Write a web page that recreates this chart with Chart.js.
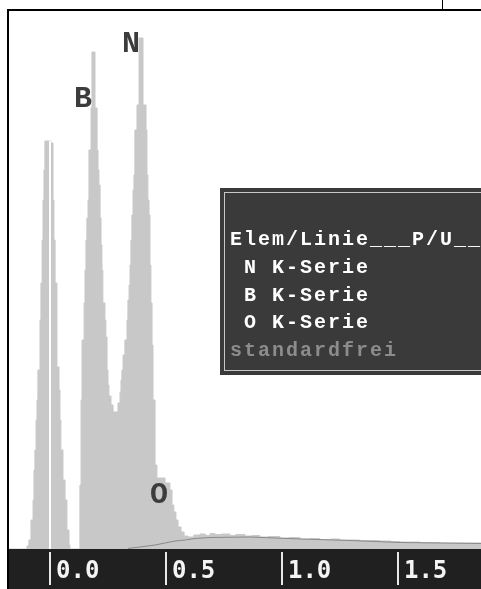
<!DOCTYPE html>
<html>
<head>
    <title>EDX Spektrum</title>
    <script src="https://cdn.jsdelivr.net/npm/chart.js"></script>
    <style>
        body { margin: 0; background: #fff; }
        canvas { display: block; }
    </style>
</head>
<body>
<canvas id="spectrum" width="481" height="589"></canvas>
<script>
    // channel start energy (keV) and counts of that channel
    const energy = [-0.181, -0.099, -0.091, -0.082, -0.073, -0.069, -0.065, -0.060, -0.056, -0.052,
        -0.043, -0.039, -0.034, -0.030, -0.026, -0.022, 0.004, 0.013, 0.017, 0.022,
        0.030, 0.039, 0.043, 0.047, 0.056, 0.065, 0.073, 0.082, 0.086,
        0.129, 0.134, 0.138, 0.147, 0.151, 0.155, 0.159, 0.164, 0.168, 0.177,
        0.181, 0.194, 0.203, 0.207, 0.211, 0.216, 0.220, 0.224, 0.228, 0.237,
        0.241, 0.246, 0.250, 0.254, 0.263, 0.272, 0.293, 0.302, 0.306, 0.310,
        0.315, 0.323, 0.332, 0.336, 0.341, 0.345, 0.349, 0.353, 0.358, 0.362,
        0.366, 0.375, 0.384, 0.401, 0.414, 0.418, 0.422, 0.427, 0.431, 0.435,
        0.440, 0.444, 0.453, 0.461, 0.496, 0.517, 0.526, 0.534, 0.543, 0.552,
        0.565, 0.578, 0.595, 0.62, 0.647, 0.67, 0.69, 0.711, 0.74, 0.776,
        0.80, 0.841, 0.87, 0.905, 0.94, 0.991, 1.03, 1.078, 1.12, 1.164,
        1.21, 1.25, 1.29, 1.336, 1.38, 1.422, 1.47, 1.509, 1.55, 1.595,
        1.64, 1.681, 1.75, 1.858];
    const counts = [0, 6, 18, 58, 98, 158, 198, 258, 298, 358,
        458, 532, 618, 698, 758, 816, 812, 698, 618, 532,
        364, 318, 258, 198, 138, 98, 38, 8, 0,
        128, 298, 418, 492, 558, 618, 662, 698, 798, 882,
        994, 882, 798, 758, 728, 662, 608, 558, 492, 458,
        424, 358, 328, 306, 288, 274, 292, 314, 338, 358,
        388, 418, 458, 498, 528, 568, 618, 668, 718, 748,
        838, 888, 1022, 888, 838, 748, 698, 668, 568, 492,
        408, 298, 168, 142, 132, 118, 88, 74, 58, 44,
        34, 26, 24, 28, 30, 27, 31, 29, 30, 27,
        29, 26, 27, 24, 25, 22, 23, 20, 21, 19,
        20, 18, 18, 17, 17, 16, 15, 14, 14, 13,
        13, 12, 12, 12];

    // background fit under the spectrum
    const bgEnergy = [0.336, 0.388, 0.453, 0.496, 0.539, 0.582, 0.625, 0.690, 0.862, 1.078, 1.293, 1.509, 1.858];
    const bgCounts = [1, 4, 8, 12, 16, 18, 21, 23, 24, 20, 17, 13, 11];

    const tickValues = [0, 0.5, 1.0, 1.5];

    // element letters and where they sit (keV, counts of the letter's lower right corner)
    const peakNames = ['N', 'B', 'O'];
    const peakLabelE = [0.388, 0.181, 0.509];
    const peakLabelC = [994, 884, 92];

    const tableHeader = 'Elem/Linie___P/U___';
    const tableRows = [' N K-Serie', ' B K-Serie', ' O K-Serie'];
    const tableNote = 'standardfrei';

    const screenPlugin = {
        id: 'screen',
        beforeDraw(chart) {
            const ctx = chart.ctx;
            const area = chart.chartArea;
            ctx.save();
            ctx.fillStyle = '#202020';
            ctx.fillRect(7, area.bottom, chart.width - 7, chart.height - area.bottom);
            ctx.restore();
        },
        afterDraw(chart) {
            const ctx = chart.ctx;
            const area = chart.chartArea;
            const xs = chart.scales.x;
            const ys = chart.scales.y;
            ctx.save();

            // tick bars in the axis strip
            ctx.strokeStyle = '#e8e8e8';
            ctx.lineWidth = 2;
            xs.ticks.forEach(t => {
                const px = Math.round(xs.getPixelForValue(t.value));
                ctx.beginPath();
                ctx.moveTo(px, area.bottom + 3);
                ctx.lineTo(px, area.bottom + 36);
                ctx.stroke();
            });

            // window frame
            ctx.strokeStyle = '#000';
            ctx.lineWidth = 2;
            ctx.beginPath();
            ctx.moveTo(8, chart.height);
            ctx.lineTo(8, 10);
            ctx.lineTo(chart.width, 10);
            ctx.stroke();
            ctx.lineWidth = 1;
            ctx.beginPath();
            ctx.moveTo(442.5, 0);
            ctx.lineTo(442.5, 10);
            ctx.stroke();

            // peak letters
            ctx.fillStyle = '#3c3c3c';
            ctx.font = 'bold 30px "Liberation Mono"';
            ctx.textAlign = 'right';
            ctx.textBaseline = 'alphabetic';
            peakNames.forEach((n, i) => {
                ctx.fillText(n, xs.getPixelForValue(peakLabelE[i]), ys.getPixelForValue(peakLabelC[i]));
            });

            // result box
            ctx.fillStyle = '#3a3a3a';
            ctx.fillRect(220, 188, chart.width - 220, 187);
            ctx.strokeStyle = '#c8c8c8';
            ctx.lineWidth = 1;
            ctx.strokeRect(224.5, 192.5, chart.width, 178);
            ctx.font = 'bold 20px "Liberation Mono"';
            ctx.letterSpacing = '2px';
            ctx.textAlign = 'left';
            ctx.fillStyle = '#ffffff';
            ctx.fillText(tableHeader, 230, 245);
            tableRows.forEach((r, i) => ctx.fillText(r, 230, 273 + i * 27.7));
            ctx.fillStyle = '#8c8c8c';
            ctx.fillText(tableNote, 230, 356);
            ctx.restore();
        }
    };

    const ctx = document.getElementById('spectrum').getContext('2d');
    new Chart(ctx, {
        type: 'line',
        data: {
            datasets: [
                {
                    // zero marker
                    data: [{x: 0, y: 0}, {x: 0, y: 816}],
                    borderColor: '#ffffff',
                    borderWidth: 2,
                    pointRadius: 0,
                    fill: false
                },
                {
                    data: bgEnergy.map((e, i) => ({x: e, y: bgCounts[i]})),
                    borderColor: '#8a8a8a',
                    borderWidth: 1,
                    pointRadius: 0,
                    fill: false
                },
                {
                    data: energy.map((e, i) => ({x: e, y: counts[i]})),
                    stepped: 'before',
                    borderColor: '#c8c8c8',
                    backgroundColor: '#c8c8c8',
                    borderWidth: 1,
                    pointRadius: 0,
                    fill: 'origin'
                }
            ]
        },
        options: {
            responsive: false,
            animation: false,
            layout: { padding: { top: 10, left: 8, right: 0, bottom: 0 } },
            plugins: { legend: { display: false }, tooltip: { enabled: false } },
            scales: {
                x: {
                    type: 'linear',
                    min: -0.181,
                    max: 1.858,
                    afterBuildTicks: scale => { scale.ticks = tickValues.map(v => ({value: v})); },
                    afterFit: scale => { scale.height = 40; },
                    grid: { display: false, drawTicks: false },
                    border: { display: false },
                    ticks: {
                        align: 'start',
                        labelOffset: 6,
                        padding: 8,
                        color: '#f4f4f4',
                        font: { family: '"DejaVu Sans Mono"', size: 24, weight: 'bold' },
                        callback: v => v.toFixed(1)
                    }
                },
                y: {
                    display: false,
                    min: 0,
                    max: 1078
                }
            }
        },
        plugins: [screenPlugin]
    });
</script>
</body>
</html>
